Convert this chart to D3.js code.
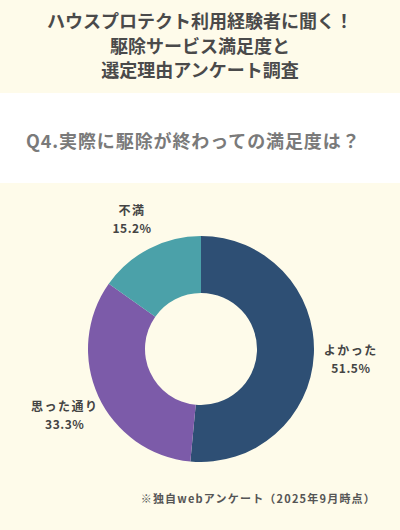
<!DOCTYPE html>
<html>
<head>
<meta charset="utf-8">
<script src="https://cdn.jsdelivr.net/npm/d3@7"></script>
<style>
  body { margin: 0; background: #fefbea; }
  svg { display: block; }
</style>
</head>
<body>
<script>
// survey data
var labels = ["よかった", "思った通り", "不満"];
var values = [51.5, 33.3, 15.2];
var colors = ["#2e4f74", "#7c5ba9", "#4ba1a9"];
var titleLines = ["ハウスプロテクト利用経験者に聞く！", "駆除サービス満足度と", "選定理由アンケート調査"];

var font = "'Noto Sans CJK JP', 'Noto Sans', sans-serif";

var svg = d3.select("body")
  .append("svg")
  .attr("width", 400)
  .attr("height", 530);

// backgrounds
svg.append("rect").attr("width", 400).attr("height", 530).style("fill", "#fefbea");
svg.append("rect").attr("y", 93).attr("width", 400).attr("height", 90).style("fill", "#ffffff");

// title
svg.selectAll("text.title")
  .data(titleLines)
  .enter().append("text")
  .attr("class", "title")
  .attr("x", 200)
  .attr("y", function(d, i) { return 28 + i * 24.5; })
  .attr("text-anchor", "middle")
  .style("font-family", font)
  .style("font-weight", "bold")
  .style("font-size", "18px")
  .style("fill", "#4a4a4a")
  .text(function(d) { return d; });

// question
svg.append("text")
  .attr("x", 26)
  .attr("y", 148)
  .style("font-family", font)
  .style("font-weight", "bold")
  .style("font-size", "18px")
  .style("letter-spacing", "0.9px")
  .style("fill", "#7a7a7a")
  .text("Q4.実際に駆除が終わっての満足度は？");

// donut
var cx = 201, cy = 349;
var pie = d3.pie().sort(null).value(function(d) { return d; });
var arc = d3.arc().innerRadius(56).outerRadius(113);
var labelArc = d3.arc().innerRadius(150).outerRadius(150);

var g = svg.append("g").attr("transform", "translate(" + cx + "," + cy + ")");
var arcs = pie(values);

g.selectAll("path")
  .data(arcs)
  .enter().append("path")
  .attr("d", arc)
  .style("fill", function(d, i) { return colors[i]; });

var lab = g.selectAll("g.lab")
  .data(arcs)
  .enter().append("g")
  .attr("class", "lab")
  .attr("transform", function(d) {
    var c = labelArc.centroid(d);
    return "translate(" + c[0] + "," + (c[1] + 3) + ")";
  });

lab.append("text")
  .attr("y", -4)
  .attr("text-anchor", "middle")
  .style("font-family", font)
  .style("font-weight", "bold")
  .style("font-size", "12px")
  .style("letter-spacing", "1.5px")
  .style("fill", "#444")
  .text(function(d, i) { return labels[i]; });

lab.append("text")
  .attr("y", 14)
  .attr("text-anchor", "middle")
  .style("font-family", font)
  .style("font-weight", "bold")
  .style("font-size", "12px")
  .style("letter-spacing", "0.5px")
  .style("fill", "#444")
  .text(function(d) { return d.data.toFixed(1) + "%"; });

// footnote
svg.append("text")
  .attr("x", 376)
  .attr("y", 503)
  .attr("text-anchor", "end")
  .style("font-family", font)
  .style("font-weight", "bold")
  .style("font-size", "11px")
  .style("letter-spacing", "1.2px")
  .style("fill", "#555")
  .text("※独自webアンケート（2025年9月時点）");
</script>
</body>
</html>
